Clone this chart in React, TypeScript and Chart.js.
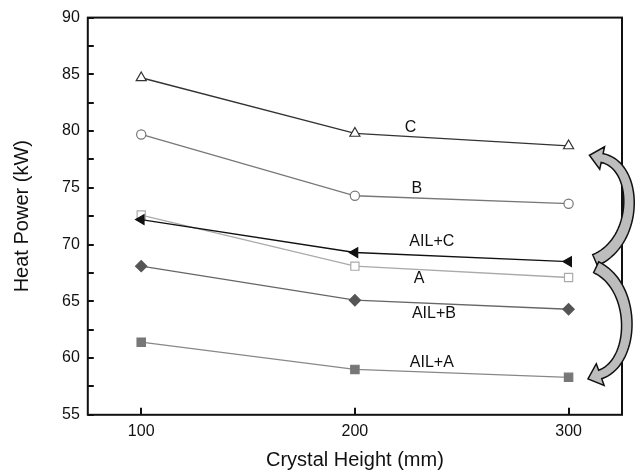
import React, { useEffect, useRef } from 'react';
import { Chart, registerables } from 'chart.js';

Chart.register(...registerables);

// ---- data ----
const crystalHeights = [100, 200, 300];
const seriesC = [84.7, 79.8, 78.7];
const seriesB = [79.7, 74.3, 73.6];
const seriesAilC = [72.2, 69.3, 68.5];
const seriesA = [72.6, 68.1, 67.1];
const seriesAilB = [68.1, 65.1, 64.3];
const seriesAilA = [61.4, 59.0, 58.3];
const xTickValues = [100, 200, 300];
const curveNames = ['C', 'B', 'AIL+C', 'A', 'AIL+B', 'AIL+A'];

const FONT = '"Liberation Sans", Arial, sans-serif';

// annotation anchors in data units (x, y)
const curveLabelAnchors: [number, number][] = [
  [226, 80.3],
  [229, 74.9],
  [236, 70.3],
  [230, 67.0],
  [237, 63.9],
  [236, 59.6],
];

// curved block arrows: cubic bezier in data units
const arrowPaths: [number, number][][] = [
  [[312.4, 68.62], [333.0, 70.3], [333.0, 76.93], [315.7, 77.63]],
  [[312.9, 68.0], [331.7, 66.33], [331.7, 59.7], [314.8, 58.55]],
];

function toXY(ys: number[]) {
  return crystalHeights.map((x, i) => ({ x, y: ys[i] }));
}

const decorPlugin = {
  id: 'decor',
  afterDraw(chart: any) {
    const { ctx, chartArea } = chart;
    const xs = chart.scales.x;
    const ys = chart.scales.y;
    ctx.save();
    // frame
    ctx.strokeStyle = '#111';
    ctx.lineWidth = 2;
    ctx.strokeRect(chartArea.left, chartArea.top, chartArea.right - chartArea.left, chartArea.bottom - chartArea.top);
    // inward ticks
    ctx.beginPath();
    for (const t of ys.ticks) {
      const py = Math.round(ys.getPixelForValue(t.value));
      ctx.moveTo(chartArea.left, py);
      ctx.lineTo(chartArea.left + 6, py);
    }
    for (const t of xs.ticks) {
      const px = Math.round(xs.getPixelForValue(t.value));
      ctx.moveTo(px, chartArea.bottom);
      ctx.lineTo(px, chartArea.bottom - 7);
    }
    ctx.stroke();

    // curve labels
    ctx.fillStyle = '#111';
    ctx.font = '16px ' + FONT;
    ctx.textAlign = 'center';
    ctx.textBaseline = 'middle';
    curveNames.forEach((name, i) => {
      const [dx, dy] = curveLabelAnchors[i];
      ctx.fillText(name, xs.getPixelForValue(dx), ys.getPixelForValue(dy));
    });

    // arrows
    for (const path of arrowPaths) {
      const P = path.map(([a, b]) => [xs.getPixelForValue(a), ys.getPixelForValue(b)]);
      const bez = (t: number) => {
        const u = 1 - t;
        return [
          u * u * u * P[0][0] + 3 * u * u * t * P[1][0] + 3 * u * t * t * P[2][0] + t * t * t * P[3][0],
          u * u * u * P[0][1] + 3 * u * u * t * P[1][1] + 3 * u * t * t * P[2][1] + t * t * t * P[3][1],
        ];
      };
      const der = (t: number) => {
        const u = 1 - t;
        const dx = 3 * u * u * (P[1][0] - P[0][0]) + 6 * u * t * (P[2][0] - P[1][0]) + 3 * t * t * (P[3][0] - P[2][0]);
        const dy = 3 * u * u * (P[1][1] - P[0][1]) + 6 * u * t * (P[2][1] - P[1][1]) + 3 * t * t * (P[3][1] - P[2][1]);
        const l = Math.hypot(dx, dy) || 1;
        return [dx / l, dy / l];
      };
      const N = 40;
      const left: number[][] = [];
      const right: number[][] = [];
      for (let i = 0; i <= N; i++) {
        const t = i / N;
        const [x, y] = bez(t);
        const [tx, ty] = der(t);
        const w = 6 - 1.5 * t;
        left.push([x - ty * w, y + tx * w]);
        right.push([x + ty * w, y - tx * w]);
      }
      const [ex, ey] = bez(1);
      const [tx, ty] = der(1);
      const hw = 11.5;
      const hl = 13;
      ctx.beginPath();
      ctx.moveTo(left[0][0], left[0][1]);
      for (const p of left) ctx.lineTo(p[0], p[1]);
      ctx.lineTo(ex - ty * hw, ey + tx * hw);
      ctx.lineTo(ex + tx * hl, ey + ty * hl);
      ctx.lineTo(ex + ty * hw, ey - tx * hw);
      for (let i = right.length - 1; i >= 0; i--) ctx.lineTo(right[i][0], right[i][1]);
      ctx.closePath();
      ctx.fillStyle = '#bdbdbd';
      ctx.fill();
      ctx.strokeStyle = '#111';
      ctx.lineWidth = 1.5;
      ctx.lineJoin = 'miter';
      ctx.stroke();
    }
    ctx.restore();
  },
};

export default function App() {
  const ref = useRef<HTMLCanvasElement | null>(null);
  useEffect(() => {
    if (!ref.current) return;
    const mk = (label: string, ys: number[], color: string, style: string, radius: number, fill: string, rotation = 0) => ({
      label,
      data: toXY(ys),
      borderColor: color,
      borderWidth: 1.3,
      pointStyle: style,
      pointRadius: radius,
      pointRotation: rotation,
      pointBackgroundColor: fill,
      pointBorderColor: fill === '#fff' ? color : fill,
      pointBorderWidth: 1.2,
      fill: false,
      tension: 0,
    });
    const chart = new Chart(ref.current, {
      type: 'line',
      data: {
        datasets: [
          mk(curveNames[0], seriesC, '#333', 'triangle', 5.8, '#fff'),
          mk(curveNames[1], seriesB, '#777', 'circle', 4.6, '#fff'),
          mk(curveNames[2], seriesAilC, '#111', 'triangle', 5.6, '#111', -90),
          mk(curveNames[3], seriesA, '#aaa', 'rect', 5.8, '#fff'),
          mk(curveNames[4], seriesAilB, '#666', 'rectRot', 5.6, '#555'),
          mk(curveNames[5], seriesAilA, '#888', 'rect', 5.9, '#777'),
        ] as any,
      },
      options: {
        animation: false,
        responsive: false,
        maintainAspectRatio: false,
        layout: { padding: { top: 9, right: 15, left: 10, bottom: 0 } },
        plugins: { legend: { display: false }, tooltip: { enabled: false } },
        scales: {
          x: {
            type: 'linear',
            min: 75,
            max: 325,
            afterBuildTicks: (axis: any) => {
              axis.ticks = xTickValues.map((v) => ({ value: v }));
            },
            grid: { display: true, drawOnChartArea: false, drawTicks: false, color: 'rgba(0,0,0,0)' },
            border: { display: false },
            ticks: { color: '#111', font: { family: FONT, size: 16 }, padding: 7, maxRotation: 0 },
            title: { display: true, text: 'Crystal Height (mm)', color: '#111', font: { family: FONT, size: 20 }, padding: { top: 0, bottom: 0 } },
          },
          y: {
            type: 'linear',
            min: 55,
            max: 90,
            grid: { display: true, drawOnChartArea: false, drawTicks: false, color: 'rgba(0,0,0,0)' },
            border: { display: false },
            ticks: {
              stepSize: 2.5,
              autoSkip: false,
              color: '#111',
              font: { family: FONT, size: 16 },
              padding: 8,
              callback: (v: any) => (Number(v) % 5 === 0 ? String(v) : ''),
            },
            title: { display: true, text: 'Heat Power (kW)', color: '#111', font: { family: FONT, size: 20 }, padding: { top: 0, bottom: 20 } },
          },
        },
      },
      plugins: [decorPlugin],
    } as any);
    return () => chart.destroy();
  }, []);
  return (
    <div style={{ position: 'absolute', left: 0, top: 0, width: 637, height: 472, background: '#fff' }}>
      <canvas ref={ref} width={637} height={472} style={{ display: 'block' }} />
    </div>
  );
}
